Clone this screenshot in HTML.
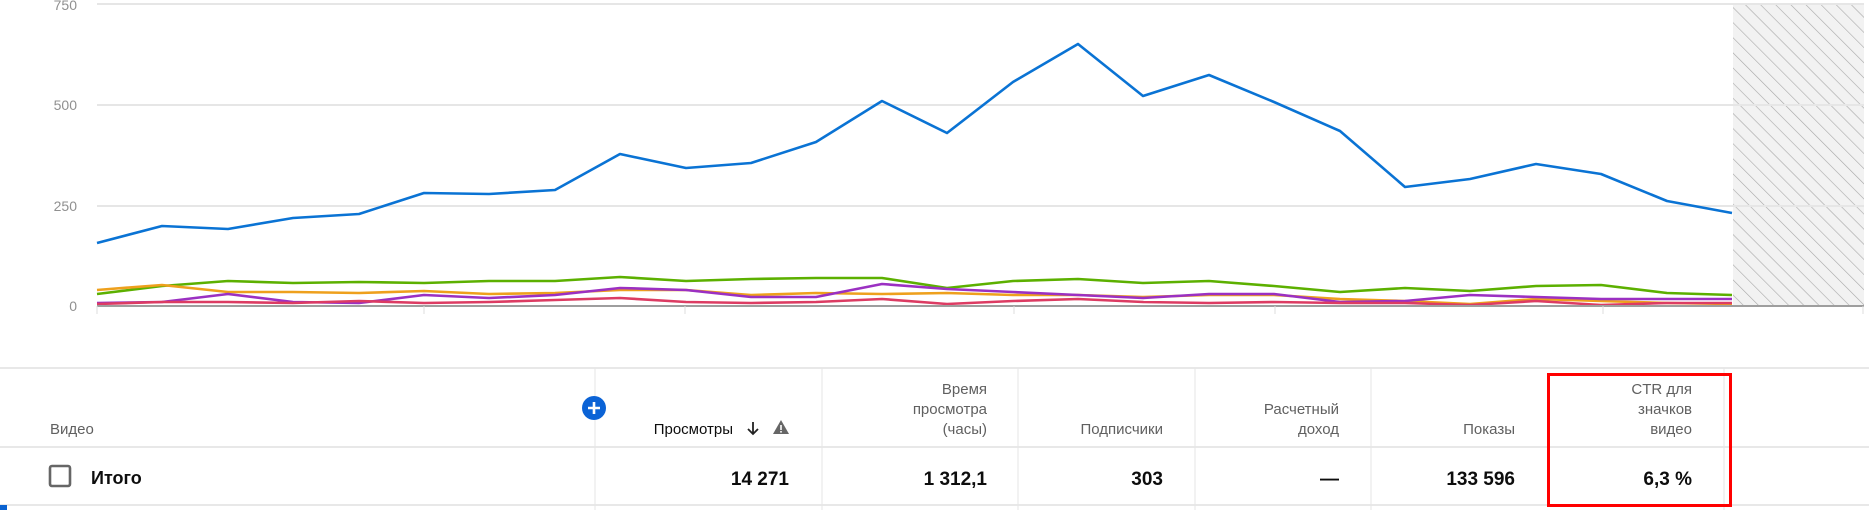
<!DOCTYPE html>
<html><head><meta charset="utf-8"><style>
html,body{margin:0;padding:0;background:#fff;width:1869px;height:510px;overflow:hidden}
svg text{font-family:"Liberation Sans",sans-serif}
</style></head><body>
<svg width="1869" height="510" viewBox="0 0 1869 510" xmlns="http://www.w3.org/2000/svg">
<defs>
<pattern id="h" patternUnits="userSpaceOnUse" width="10.7" height="10.7" patternTransform="rotate(-45)">
<rect width="10.7" height="10.7" fill="#f2f2f2"/>
<line x1="0" y1="0" x2="0" y2="10.7" stroke="#a8a8a8" stroke-width="1.2"/>
</pattern>
</defs>
<rect x="1733" y="4" width="131" height="302" fill="url(#h)"/>
<g stroke="#e6e6e6" stroke-width="2">
<line x1="97" y1="4" x2="1864" y2="4"/>
<line x1="97" y1="105" x2="1864" y2="105"/>
<line x1="97" y1="206" x2="1864" y2="206"/>
</g>
<g fill="#909090" font-size="14" text-anchor="end">
<text x="77" y="10">750</text>
<text x="77" y="110">500</text>
<text x="77" y="211">250</text>
<text x="77" y="311">0</text>
</g>
<g fill="none" stroke-width="2.6" stroke-linejoin="round">
<polyline stroke="#5cb000" points="97,294 162,286 228,281 293,283 359,282 424,283 489,281 555,281 620,277 686,281 751,279 816,278 882,278 947,288 1013,281 1078,279 1143,283 1209,281 1274,286 1340,292 1405,288 1470,291 1536,286 1601,285 1667,293 1732,295"/>
<polyline stroke="#eea01d" points="97,290 162,285 228,292 293,292 359,293 424,291 489,294 555,293 620,290 686,290 751,295 816,293 882,294 947,293 1013,295 1078,295 1143,297 1209,295 1274,295 1340,299 1405,301 1470,304 1536,299 1601,301 1667,303 1732,304"/>
<polyline stroke="#9b30c2" points="97,303 162,302 228,294 293,302 359,303 424,295 489,298 555,295 620,288 686,290 751,297 816,297 882,284 947,289 1013,292 1078,295 1143,298 1209,294 1274,294 1340,302 1405,301 1470,295 1536,297 1601,299 1667,299 1732,299"/>
<polyline stroke="#dc3c63" points="97,304 162,302 228,302 293,303 359,301 424,303 489,302 555,300 620,298 686,302 751,303 816,302 882,299 947,304 1013,301 1078,299 1143,302 1209,303 1274,302 1340,303 1405,303 1470,305 1536,301 1601,305 1667,303 1732,303"/>
<polyline stroke="#0a73d4" points="97,243 162,226 228,229 293,218 359,214 424,193 489,194 555,190 620,154 686,168 751,163 816,142 882,101 947,133 1013,82 1078,44 1143,96 1209,75 1274,102 1340,131 1405,187 1470,179 1536,164 1601,174 1667,201 1732,213"/>
</g>
<line x1="97" y1="306" x2="1864" y2="306" stroke="#9e9e9e" stroke-width="2"/>
<g stroke="#dcdcdc" stroke-width="1">
<line x1="97" y1="306" x2="97" y2="314"/><line x1="424" y1="306" x2="424" y2="314"/>
<line x1="685" y1="306" x2="685" y2="314"/><line x1="1014" y1="306" x2="1014" y2="314"/>
<line x1="1275" y1="306" x2="1275" y2="314"/><line x1="1603" y1="306" x2="1603" y2="314"/>
<line x1="1863" y1="306" x2="1863" y2="314"/>
</g>
<g stroke="#e0e0e0" stroke-width="1.5">
<line x1="0" y1="368" x2="1869" y2="368"/>
<line x1="0" y1="447" x2="1869" y2="447"/>
<line x1="0" y1="505" x2="1869" y2="505"/>
</g>
<g stroke="#e6e6e6" stroke-width="1">
<line x1="595" y1="368" x2="595" y2="510"/><line x1="822" y1="368" x2="822" y2="510"/>
<line x1="1018" y1="368" x2="1018" y2="510"/><line x1="1195" y1="368" x2="1195" y2="510"/>
<line x1="1371" y1="368" x2="1371" y2="510"/><line x1="1724" y1="368" x2="1724" y2="510"/>
</g>
<rect x="0" y="505" width="7" height="5" fill="#0a62d0"/>
<circle cx="594" cy="408" r="12" fill="#0b63d6"/>
<path d="M594 402v12M588 408h12" stroke="#fff" stroke-width="2.6"/>
<g font-size="15" fill="#606060" text-anchor="end">
<text x="987" y="394">Время</text><text x="987" y="414">просмотра</text><text x="987" y="434">(часы)</text>
<text x="1163" y="434">Подписчики</text>
<text x="1339" y="414">Расчетный</text><text x="1339" y="434">доход</text>
<text x="1515" y="434">Показы</text>
<text x="1692" y="394">CTR для</text><text x="1692" y="414">значков</text><text x="1692" y="434">видео</text>
</g>
<text x="50" y="434" font-size="15" fill="#606060">Видео</text>
<text x="733" y="434" font-size="15" fill="#0d0d0d" text-anchor="end">Просмотры</text>
<path d="M753 422v12M748 429l5 5 5-5" fill="none" stroke="#222" stroke-width="1.8"/>
<path d="M781 420l8 14h-16z" fill="#666"/><rect x="780.2" y="425" width="1.6" height="5" fill="#fff"/><rect x="780.2" y="431" width="1.6" height="1.6" fill="#fff"/>
<rect x="50" y="466" width="20" height="20" rx="2" fill="none" stroke="#666" stroke-width="2.6"/>
<g font-size="19" font-weight="bold" fill="#0d0d0d">
<text x="91" y="484" font-size="18">Итого</text>
<g text-anchor="end">
<text x="789" y="485">14 271</text><text x="987" y="485">1 312,1</text>
<text x="1163" y="485">303</text><text x="1339" y="485">—</text>
<text x="1515" y="485">133 596</text><text x="1692" y="485">6,3 %</text>
</g></g>
<rect x="1548.5" y="374.5" width="182" height="131" fill="none" stroke="#f00" stroke-width="3"/>
</svg>
</body></html>
